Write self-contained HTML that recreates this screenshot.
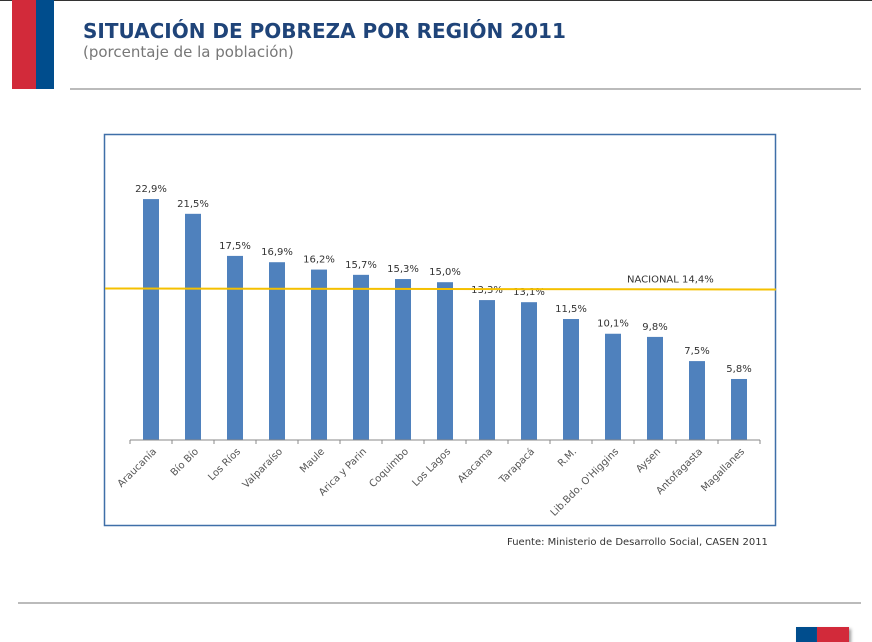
<!DOCTYPE html>
<html><head><meta charset="utf-8"><style>
body{margin:0;width:872px;height:642px;background:#fff;position:relative;overflow:hidden;font-family:"DejaVu Sans","Liberation Sans",sans-serif}
.abs{position:absolute}
</style></head><body>
<div class="abs" style="left:0;top:0;width:872px;height:1px;background:#333"></div>
<div class="abs" style="left:12px;top:0;width:24px;height:89px;background:#d22a3a"></div>
<div class="abs" style="left:36px;top:0;width:18px;height:89px;background:#004d8d"></div>
<div class="abs" style="left:83px;top:19px;font-size:20px;font-weight:bold;color:#1f4479;white-space:nowrap">SITUACIÓN DE POBREZA POR REGIÓN 2011</div>
<div class="abs" style="left:83px;top:43px;font-size:15px;color:#777;white-space:nowrap">(porcentaje de la población)</div>
<div class="abs" style="left:70px;top:88px;width:791px;height:2px;background:#bbb"></div>
<div class="abs" style="left:18px;top:602px;width:843px;height:2px;background:#bbb"></div>
<div class="abs" style="left:796px;top:627px;width:21px;height:15px;background:#004d8d;box-shadow:2px 2px 3px #999"></div>
<div class="abs" style="left:817px;top:627px;width:32px;height:15px;background:#d22a3a;box-shadow:2px 2px 3px #999"></div>
<div class="abs" style="left:507px;top:537px;font-size:10px;color:#333;white-space:nowrap">Fuente: Ministerio de Desarrollo Social, CASEN 2011</div>
<svg class="abs" style="left:0;top:0" width="872" height="642">
<rect x="104.5" y="134.5" width="671" height="391" fill="#fff" stroke="#3f6fa8" stroke-width="1.5"/>
<g id="g"></g>
</svg>
<script>
const categories=["Araucanía","Bío Bío","Los Ríos","Valparaíso","Maule","Arica y Parin","Coquimbo","Los Lagos","Atacama","Tarapacá","R.M.","Lib.Bdo. O'Higgins","Aysen","Antofagasta","Magallanes"];
const values=[22.9,21.5,17.5,16.9,16.2,15.7,15.3,15.0,13.3,13.1,11.5,10.1,9.8,7.5,5.8];
const valueLabels=["22,9%","21,5%","17,5%","16,9%","16,2%","15,7%","15,3%","15,0%","13,3%","13,1%","11,5%","10,1%","9,8%","7,5%","5,8%"];
const nationalValue=[14.4];
const nationalLabel=["NACIONAL 14,4%"];
const NS="http://www.w3.org/2000/svg",g=document.getElementById('g');
const base=440,k=10.52;
const y=v=>base-v*k, x=i=>151+i*42;
function mk(t,a){const e=document.createElementNS(NS,t);for(const n in a)e.setAttribute(n,a[n]);g.appendChild(e);return e;}
categories.forEach((c,i)=>{
 const r=mk('rect',{x:x(i)-8,y:y(values[i]),width:16,height:values[i]*k,fill:'#4f81bd'});
 
 
 const t=mk('text',{x:x(i),y:y(values[i])-7,'text-anchor':'middle','font-size':'10',fill:'#333','font-family':'DejaVu Sans, sans-serif'});
 t.textContent=valueLabels[i];
 
 
 const l=mk('text',{x:0,y:0,'text-anchor':'end','font-size':'10',fill:'#555','font-family':'DejaVu Sans, sans-serif',transform:`translate(${x(i)+6},${base+12}) rotate(-45)`});
 l.textContent=c;
 
 
});
for(let i=0;i<=15;i++){const tk=mk('line',{x1:130+i*42,x2:130+i*42,y1:base,y2:base+4,stroke:'#888'});
 
 }
const ax=mk('line',{x1:130,x2:760,y1:base,y2:base,stroke:'#888'});


const nl=mk('line',{x1:105,x2:776,y1:y(nationalValue[0]),y2:y(nationalValue[0])+1,stroke:'#f5c000','stroke-width':2});


const nt=mk('text',{x:627,y:y(nationalValue[0])-6,'font-size':'10',fill:'#333','font-family':'DejaVu Sans, sans-serif'});
nt.textContent=nationalLabel[0];


</script>
</body></html>
